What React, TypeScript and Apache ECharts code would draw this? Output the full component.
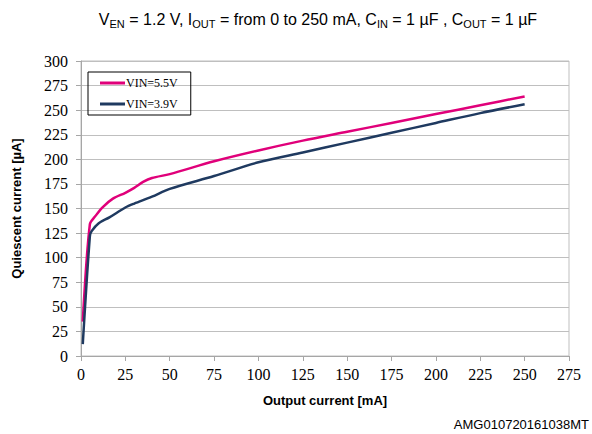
import React, { useEffect, useRef } from "react";
import * as echarts from "echarts";

const seriesNames = ["VIN=5.5V", "VIN=3.9V"];
const seriesColors = ["#e0007a", "#1f3a60"];

const outputCurrent55 = [1, 5, 8, 12, 18, 25, 30, 35, 40, 50, 75, 100, 125, 150, 175, 200, 225, 250];
const quiescent55 = [35, 134, 142, 151, 160, 166, 171, 177, 181, 185, 198, 209, 219, 228, 237, 246, 255, 264];

const outputCurrent39 = [1, 5, 6, 10, 16, 25, 30, 40, 50, 75, 100, 125, 150, 175, 200, 225, 250];
const quiescent39 = [12, 122, 127, 135, 141, 151, 155, 162, 170, 183, 197, 207, 217, 227, 237, 247, 256];

const xTicks = [0, 25, 50, 75, 100, 125, 150, 175, 200, 225, 250, 275];
const yTicks = [0, 25, 50, 75, 100, 125, 150, 175, 200, 225, 250, 275, 300];

const titleText =
  "{n|V}{s|EN}{n| = 1.2 V, I}{s|OUT}{n| = from 0 to 250 mA, C}{s|IN}{n| = 1 µF , C}{s|OUT}{n| = 1 µF}";
const xName = "Output current [mA]";
const yName = "Quiescent current [µA]";
const footer = "AMG010720161038MT";

function pairs(xs: number[], ys: number[]) {
  return xs.map((x, i) => [x, ys[i]]);
}

export default function App() {
  const ref = useRef<HTMLDivElement>(null);
  useEffect(() => {
    if (!ref.current) return;
    const chart = echarts.init(ref.current, undefined, { renderer: "svg" });
    const serif = "Liberation Serif";
    const sans = "Liberation Sans";
    const fixedGraphics: any[] = [
      {
        type: "text",
        x: 318,
        y: 19,
        style: {
          text: titleText,
          align: "center",
          verticalAlign: "middle",
          rich: {
            n: { fontFamily: sans, fontSize: 16, lineHeight: 20, color: "#000" },
            s: { fontFamily: sans, fontSize: 11, lineHeight: 11, verticalAlign: "bottom", color: "#000" },
          },
        },
      },
      {
        type: "text",
        x: 589,
        y: 424,
        style: {
          text: footer,
          align: "right",
          verticalAlign: "middle",
          fontFamily: sans,
          fontSize: 13,
          fill: "#000",
        },
      },
    ];
    chart.setOption({
      animation: false,
      backgroundColor: "#ffffff",
      grid: {
        left: 81,
        right: 23,
        top: 61,
        bottom: 78,
        show: true,
        borderColor: "#bfbfbf",
        borderWidth: 1,
      },
      legend: {
        left: 88,
        top: 72,
        orient: "vertical",
        borderColor: "#000",
        borderWidth: 1,
        padding: [5, 13, 5, 12],
        itemGap: 9,
        itemWidth: 25,
        itemHeight: 3,
        icon: "rect",
        textStyle: { fontFamily: serif, fontSize: 12, color: "#000", padding: [0, 0, 0, -4] },
        data: seriesNames,
      },
      xAxis: {
        type: "value",
        min: 0,
        max: 275,
        interval: 25,
        name: xName,
        nameLocation: "middle",
        nameGap: 38,
        nameTextStyle: { fontFamily: sans, fontWeight: "bold", fontSize: 13, color: "#000" },
        axisLine: { show: true, lineStyle: { color: "#a6a6a6" } },
        axisTick: { show: true, length: 5, lineStyle: { color: "#a6a6a6" } },
        axisLabel: { show: false },
        splitLine: { show: false },
      },
      yAxis: {
        type: "value",
        min: 0,
        max: 300,
        interval: 25,
        name: yName,
        nameLocation: "middle",
        nameGap: 58,
        nameTextStyle: { fontFamily: sans, fontWeight: "bold", fontSize: 13, color: "#000" },
        axisLine: { show: true, lineStyle: { color: "#a6a6a6" } },
        axisTick: { show: true, length: 5, lineStyle: { color: "#a6a6a6" } },
        axisLabel: { show: false },
        splitLine: { show: true, lineStyle: { color: "#bfbfbf", width: 1 } },
      },
      graphic: fixedGraphics,
      series: [
        {
          name: seriesNames[0],
          type: "line",
          data: pairs(outputCurrent55, quiescent55),
          smooth: 0.3,
          showSymbol: false,
          color: seriesColors[0],
          lineStyle: { width: 2.5, color: seriesColors[0] },
          z: 2,
        },
        {
          name: seriesNames[1],
          type: "line",
          data: pairs(outputCurrent39, quiescent39),
          smooth: 0.3,
          showSymbol: false,
          color: seriesColors[1],
          lineStyle: { width: 2.5, color: seriesColors[1] },
          z: 3,
        },
      ],
    });
    const tickGraphics: any[] = [];
    xTicks.forEach((v) => {
      const p = chart.convertToPixel({ gridIndex: 0 }, [v, 0]) as number[];
      tickGraphics.push({
        type: "text",
        x: p[0],
        y: p[1] + 10,
        style: { text: String(v), align: "center", verticalAlign: "top", fontFamily: serif, fontSize: 16, fill: "#000" },
      });
    });
    yTicks.forEach((v) => {
      const p = chart.convertToPixel({ gridIndex: 0 }, [0, v]) as number[];
      tickGraphics.push({
        type: "text",
        x: p[0] - 13,
        y: p[1],
        style: { text: String(v), align: "right", verticalAlign: "middle", fontFamily: serif, fontSize: 16, fill: "#000" },
      });
    });
    chart.setOption({ graphic: fixedGraphics.concat(tickGraphics) });
    return () => chart.dispose();
  }, []);
  return <div ref={ref} style={{ width: 592, height: 434, position: "fixed", left: 0, top: 0 }} />;
}
